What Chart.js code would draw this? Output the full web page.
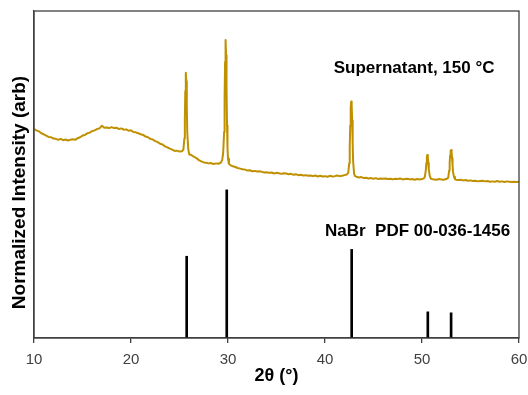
<!DOCTYPE html>
<html>
<head>
<meta charset="utf-8">
<script src="https://cdn.jsdelivr.net/npm/chart.js@4"></script>
<style>
  html, body { margin: 0; padding: 0; background: #fff; }
  #wrap { width: 528px; height: 395px; }
</style>
</head>
<body>
<div id="wrap"><canvas id="xrdChart" width="528" height="395"></canvas></div>
<script>
// measured pattern (2theta, normalized intensity)
var twoTheta = [
  10.0, 10.25, 10.5, 10.75, 11.0, 11.25, 11.5, 11.75, 12.0, 12.25, 12.5, 12.75,
  13.0, 13.25, 13.5, 13.75, 14.0, 14.25, 14.5, 14.75, 15.0, 15.25, 15.5, 15.75,
  16.0, 16.25, 16.5, 16.75, 17.0, 17.25, 17.5, 17.75, 18.0, 18.25, 18.5, 18.75,
  19.0, 19.25, 19.5, 19.75, 20.0, 20.25, 20.5, 20.75, 21.0, 21.25, 21.5, 21.75,
  22.0, 22.25, 22.5, 22.75, 23.0, 23.25, 23.5, 23.75, 24.0, 24.25, 24.5, 24.75,
  25.0, 25.25, 25.4, 25.5, 25.55, 25.6, 25.65, 25.7, 25.75, 25.8, 25.9, 26.0,
  26.25, 26.5, 26.75, 27.0, 27.25, 27.5, 27.75, 28.0, 28.25, 28.5, 28.75, 29.0,
  29.25, 29.4, 29.5, 29.6, 29.65, 29.7, 29.75, 29.8, 29.85, 29.9, 29.95, 30.0,
  30.1, 30.25, 30.5, 30.75, 31.0, 31.25, 31.5, 31.75, 32.0, 32.25, 32.5, 32.75,
  33.0, 33.25, 33.5, 33.75, 34.0, 34.25, 34.5, 34.75, 35.0, 35.25, 35.5, 35.75,
  36.0, 36.25, 36.5, 36.75, 37.0, 37.25, 37.5, 37.75, 38.0, 38.25, 38.5, 38.75,
  39.0, 39.25, 39.5, 39.75, 40.0, 40.25, 40.5, 40.75, 41.0, 41.25, 41.5, 41.75,
  42.0, 42.25, 42.4, 42.5, 42.55, 42.6, 42.65, 42.7, 42.75, 42.8, 42.85, 42.9,
  43.0, 43.1, 43.25, 43.5, 43.75, 44.0, 44.25, 44.5, 44.75, 45.0, 45.25, 45.5,
  45.75, 46.0, 46.25, 46.5, 46.75, 47.0, 47.25, 47.5, 47.75, 48.0, 48.25, 48.5,
  48.75, 49.0, 49.25, 49.5, 49.75, 50.0, 50.2, 50.3, 50.4, 50.45, 50.5, 50.55,
  50.6, 50.65, 50.7, 50.8, 50.9, 51.0, 51.25, 51.5, 51.75, 52.0, 52.25, 52.5,
  52.7, 52.8, 52.85, 52.9, 52.95, 53.0, 53.05, 53.1, 53.15, 53.2, 53.3, 53.4,
  53.5, 53.75, 54.0, 54.25, 54.5, 54.75, 55.0, 55.25, 55.5, 55.75, 56.0, 56.25,
  56.5, 56.75, 57.0, 57.25, 57.5, 57.75, 58.0, 58.25, 58.5, 58.75, 59.0, 59.25,
  59.5, 59.75, 60.0
];
var intensity = [
  63.9, 63.5, 63.2, 62.6, 62.3, 61.9, 61.5, 61.4, 61.0, 60.9, 60.6, 60.9,
  60.5, 60.7, 60.4, 60.6, 60.8, 60.6, 61.1, 61.4, 61.9, 62.1, 62.6, 62.8,
  63.3, 63.5, 63.9, 64.1, 64.9, 64.3, 64.4, 64.2, 64.5, 64.2, 64.3, 63.9,
  64.1, 63.7, 63.8, 63.4, 63.5, 63.0, 62.9, 62.6, 62.3, 62.1, 61.6, 61.4,
  60.9, 60.7, 60.2, 59.9, 59.4, 59.2, 58.6, 58.3, 57.9, 57.6, 57.2, 57.3,
  57.0, 57.1, 57.6, 61.0, 67.0, 75.5, 81.1, 78.5, 71.0, 63.0, 57.8, 56.2,
  55.9, 55.4, 55.0, 54.4, 54.0, 53.7, 53.6, 53.4, 53.5, 53.2, 53.4, 53.3,
  53.6, 54.4, 56.5, 63.0, 73.0, 84.5, 91.1, 86.5, 76.0, 65.0, 58.0, 54.8,
  53.2, 52.9, 52.5, 52.3, 52.0, 51.8, 51.6, 51.5, 51.2, 51.3, 51.0, 51.1,
  50.9, 51.0, 50.8, 50.6, 50.7, 50.5, 50.6, 50.3, 50.5, 50.4, 50.2, 50.4,
  50.3, 50.1, 50.2, 49.9, 50.1, 49.8, 49.9, 49.7, 49.8, 49.6, 49.7, 49.5,
  49.7, 49.4, 49.6, 49.4, 49.5, 49.3, 49.6, 49.4, 49.5, 49.7, 49.5, 49.6,
  49.8, 50.0, 50.6, 53.5, 58.5, 65.0, 70.5, 72.3, 71.0, 66.5, 59.5, 54.0,
  50.2, 49.5, 49.3, 49.1, 49.2, 48.9, 49.0, 48.8, 48.9, 48.7, 48.9, 48.6,
  48.8, 48.7, 48.8, 48.6, 48.7, 48.5, 48.7, 48.6, 48.8, 48.5, 48.6, 48.7,
  48.5, 48.6, 48.4, 48.6, 48.5, 48.6, 48.8, 49.4, 51.5, 53.5, 55.3, 56.0,
  55.2, 53.5, 51.5, 49.6, 48.8, 48.6, 48.5, 48.4, 48.6, 48.5, 48.4, 48.6,
  49.0, 51.2, 53.5, 55.8, 57.2, 57.5, 56.8, 55.0, 52.8, 50.8, 49.2, 48.6,
  48.4, 48.3, 48.4, 48.2, 48.3, 48.1, 48.2, 48.0, 48.1, 47.9, 48.0, 48.1,
  47.9, 48.0, 47.8, 47.9, 47.8, 48.0, 47.8, 47.9, 47.7, 47.9, 47.8, 47.7,
  47.8, 47.7, 47.8
];

// reference stick pattern NaBr PDF 00-036-1456
var refTheta = [25.74, 29.87, 42.75, 50.6, 53.0];
var refIntensity = [25.0, 45.3, 27.1, 8.0, 7.7];

var xTicks = [10, 20, 30, 40, 50, 60];

var labels = [
  { text: 'Supernatant, 150 \u00B0C', x: 40.9, y: 82.6 },
  { text: 'NaBr  PDF 00-036-1456', x: 40.0, y: 32.5 }
];

var GOLD = '#BF9000';
var FONT = "'Liberation Sans', Arial, sans-serif";

var framePlugin = {
  id: 'frame',
  afterDatasetsDraw: function(chart) {
    var ctx = chart.ctx, a = chart.chartArea;
    ctx.save();
    ctx.strokeStyle = '#404040';
    ctx.lineWidth = 1.3;
    ctx.strokeRect(a.left, a.top, a.right - a.left, a.bottom - a.top);
    ctx.restore();
  }
};

var labelPlugin = {
  id: 'textLabels',
  afterDraw: function(chart) {
    var ctx = chart.ctx;
    var xs = chart.scales.x, ys = chart.scales.y;
    ctx.save();
    ctx.fillStyle = '#000';
    ctx.font = 'bold 17px ' + FONT;
    ctx.textAlign = 'left';
    ctx.textBaseline = 'middle';
    labels.forEach(function(l) {
      ctx.fillText(l.text, xs.getPixelForValue(l.x), ys.getPixelForValue(l.y));
    });
    // y axis title, sits a bit below the plot centre like the original
    ctx.translate(20, ys.getPixelForValue(44.5));
    ctx.rotate(-Math.PI / 2);
    ctx.font = 'bold 19px ' + FONT;
    ctx.textAlign = 'center';
    ctx.fillText('Normalized Intensity (arb)', 0, 0);
    ctx.restore();
  }
};

var pattern = twoTheta.map(function(t, i) { return { x: t, y: intensity[i] }; });
var sticks = refTheta.map(function(t, i) { return { x: t, y: refIntensity[i] }; });

new Chart(document.getElementById('xrdChart'), {
  data: {
    datasets: [{
      type: 'line',
      label: 'Supernatant, 150 °C',
      data: pattern,
      borderColor: GOLD,
      borderWidth: 2,
      borderJoinStyle: 'round',
      borderCapStyle: 'round',
      pointRadius: 0,
      tension: 0
    }, {
      type: 'bar',
      label: 'NaBr',
      data: sticks,
      backgroundColor: '#000',
      barThickness: 2
    }]
  },
  options: {
    responsive: false,
    animation: false,
    layout: { padding: { top: 11, right: 9, bottom: 0, left: 0 } },
    plugins: { legend: { display: false }, tooltip: { enabled: false } },
    scales: {
      x: {
        type: 'linear',
        min: 10,
        max: 60,
        offset: false,
        afterBuildTicks: function(scale) {
          scale.ticks = xTicks.map(function(v) { return { value: v }; });
        },
        afterFit: function(scale) {
          scale.height = 57;
          scale.paddingLeft = 0;
          scale.paddingRight = 0;
        },
        grid: { display: true, offset: false, drawOnChartArea: false, tickLength: 5, color: '#404040', lineWidth: 1.3 },
        border: { display: true, color: '#404040', width: 1.3 },
        ticks: { color: '#404040', font: { family: FONT, size: 15 }, padding: 8, maxRotation: 0 },
        title: {
          display: true,
          text: '2\u03B8 (\u00B0)',
          color: '#000',
          font: { family: FONT, size: 18, weight: 'bold' },
          padding: { top: 0, bottom: 8 }
        }
      },
      y: {
        min: 0,
        max: 100,
        afterFit: function(scale) { scale.width = 34; },
        grid: { display: false },
        border: { display: true, color: '#404040', width: 1.3 },
        ticks: { display: false },
        title: { display: false }
      }
    }
  },
  plugins: [framePlugin, labelPlugin]
});
</script>
</body>
</html>
